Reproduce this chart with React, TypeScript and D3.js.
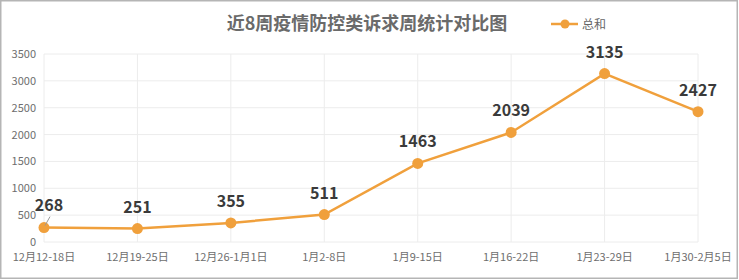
import React from "react";
import * as d3 from "d3";

const title = "近8周疫情防控类诉求周统计对比图";
const seriesName = "总和";
const categories = ["12月12-18日", "12月19-25日", "12月26-1月1日", "1月2-8日", "1月9-15日", "1月16-22日", "1月23-29日", "1月30-2月5日"];
const values = [268, 251, 355, 511, 1463, 2039, 3135, 2427];
const yTicks = [0, 500, 1000, 1500, 2000, 2500, 3000, 3500];

const W = 739;
const H = 280;
const M = { left: 44, right: 41, top: 54, bottom: 38 };
const ORANGE = "#f0a03c";
const FONT = "'Microsoft YaHei', 'Noto Sans CJK SC', 'Noto Sans', sans-serif";

export default function App() {
  const x = d3
    .scalePoint<string>()
    .domain(categories)
    .range([M.left, W - M.right])
    .padding(0);
  const y = d3
    .scaleLinear()
    .domain([0, 3500])
    .range([H - M.bottom, M.top]);

  const line = d3
    .line<number>()
    .x((_, i) => x(categories[i]) as number)
    .y((d) => y(d));

  return (
    <div style={{ position: "fixed", left: 0, top: 0, width: W, height: H, background: "#fff" }}>
      <svg width={W} height={H} style={{ display: "block", fontFamily: FONT }}>
        <rect x={0.75} y={0.75} width={W - 2.5} height={H - 2.5} fill="#fff" stroke="#b5b5b5" strokeWidth={1.5} />
        <text x={367} y={30} textAnchor="middle" fontSize={18} fontWeight="bold" fill="#6a6a6a">
          {title}
        </text>
        {/* legend */}
        <g>
          <line x1={551} x2={578} y1={24} y2={24} stroke={ORANGE} strokeWidth={2.5} />
          <circle cx={565} cy={24} r={4.5} fill={ORANGE} />
          <text x={582} y={28.5} fontSize={12} fill="#666">
            {seriesName}
          </text>
        </g>
        {/* grid */}
        {yTicks.map((t) => (
          <g key={t}>
            <line x1={M.left} x2={W - M.right} y1={y(t)} y2={y(t)} stroke="#ececec" strokeWidth={1} />
            <text x={36} y={y(t) + 4} textAnchor="end" fontSize={11} fill="#6e6e6e">
              {t}
            </text>
          </g>
        ))}
        {categories.map((c) => (
          <g key={c}>
            <line x1={x(c)} x2={x(c)} y1={M.top} y2={H - M.bottom} stroke="#ececec" strokeWidth={1} />
            <text x={x(c)} y={H - M.bottom + 19} textAnchor="middle" fontSize={11} fill="#6e6e6e">
              {c}
            </text>
          </g>
        ))}
        <path d={line(values) || ""} fill="none" stroke={ORANGE} strokeWidth={2.5} />
        {values.map((v, i) => (
          <circle key={i} cx={x(categories[i])} cy={y(v)} r={5.5} fill={ORANGE} />
        ))}
        {/* leader line for first label */}
        <line
          x1={(x(categories[0]) as number) + 1}
          y1={y(values[0]) - 2}
          x2={(x(categories[0]) as number) + 6}
          y2={y(values[0]) - 11}
          stroke="#999"
          strokeWidth={1}
        />
        {values.map((v, i) => (
          <text
            key={i}
            x={(x(categories[i]) as number) + (i === 0 ? 5 : 0)}
            y={y(v) - (i === 0 ? 17 : 16)}
            textAnchor="middle"
            fontSize={16}
            fontWeight="bold"
            fill="#3a3a3a"
          >
            {v}
          </text>
        ))}
      </svg>
    </div>
  );
}
